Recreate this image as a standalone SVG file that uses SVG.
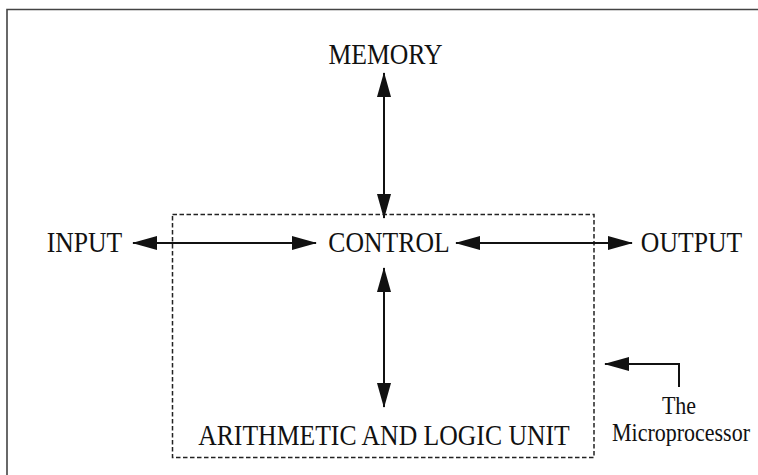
<svg xmlns="http://www.w3.org/2000/svg" width="758" height="475" viewBox="0 0 758 475">
  <style>
    .lbl { font-family: "Liberation Serif", "Times New Roman", serif; font-size: 25.7px; fill: #111; text-anchor: middle; }
    .note { font-family: "Liberation Serif", "Times New Roman", serif; font-size: 22px; fill: #111; text-anchor: middle; }
    .frame { fill: none; stroke: #444; stroke-width: 1.6; }
    .chip { fill: none; stroke: #222; stroke-width: 1.5; stroke-dasharray: 4.5 2.5; }
    .link { fill: none; stroke: #111; stroke-width: 2; }
  </style>
  <defs>
    <marker id="head" viewBox="0 0 25 14" refX="24" refY="7" markerWidth="25" markerHeight="14" markerUnits="userSpaceOnUse" orient="auto-start-reverse">
      <path d="M0,0 L25,7 L0,14 z" fill="#111"/>
    </marker>
  </defs>
  <rect width="758" height="475" fill="#fff"/>

  <!-- page frame (top and left edges only) -->
  <path class="frame" d="M7,475 L7,9.5 L758,9.5"/>

  <!-- microprocessor boundary -->
  <g id="microprocessor">
    <rect class="chip" x="172.5" y="214.5" width="421.5" height="243"/>
  </g>

  <!-- labels are set in a slightly tall serif face -->
  <g id="memory" transform="translate(385.5,64) scale(1,1.12)"><text class="lbl">MEMORY</text></g>
  <g id="input" transform="translate(84.5,252) scale(1,1.12)"><text class="lbl">INPUT</text></g>
  <g id="control" transform="translate(389,252) scale(1,1.12)"><text class="lbl">CONTROL</text></g>
  <g id="output" transform="translate(691.5,252) scale(1,1.12)"><text class="lbl">OUTPUT</text></g>
  <g id="alu" transform="translate(384,445) scale(1,1.12)"><text class="lbl">ARITHMETIC AND LOGIC UNIT</text></g>
  <g id="caption">
    <g transform="translate(679,414) scale(1,1.15)"><text class="note">The</text></g>
    <g transform="translate(681,441) scale(1,1.15)"><text class="note">Microprocessor</text></g>
  </g>

  <g id="connectors">
    <line class="link" x1="384" y1="73" x2="384" y2="218" marker-start="url(#head)" marker-end="url(#head)"/>
    <line class="link" x1="384" y1="268" x2="384" y2="407" marker-start="url(#head)" marker-end="url(#head)"/>
    <line class="link" x1="133" y1="243" x2="316" y2="243" marker-start="url(#head)" marker-end="url(#head)"/>
    <line class="link" x1="456" y1="243" x2="632" y2="243" marker-start="url(#head)" marker-end="url(#head)"/>
    <polyline class="link" points="679,387 679,364 605,364" marker-end="url(#head)"/>
  </g>
</svg>
